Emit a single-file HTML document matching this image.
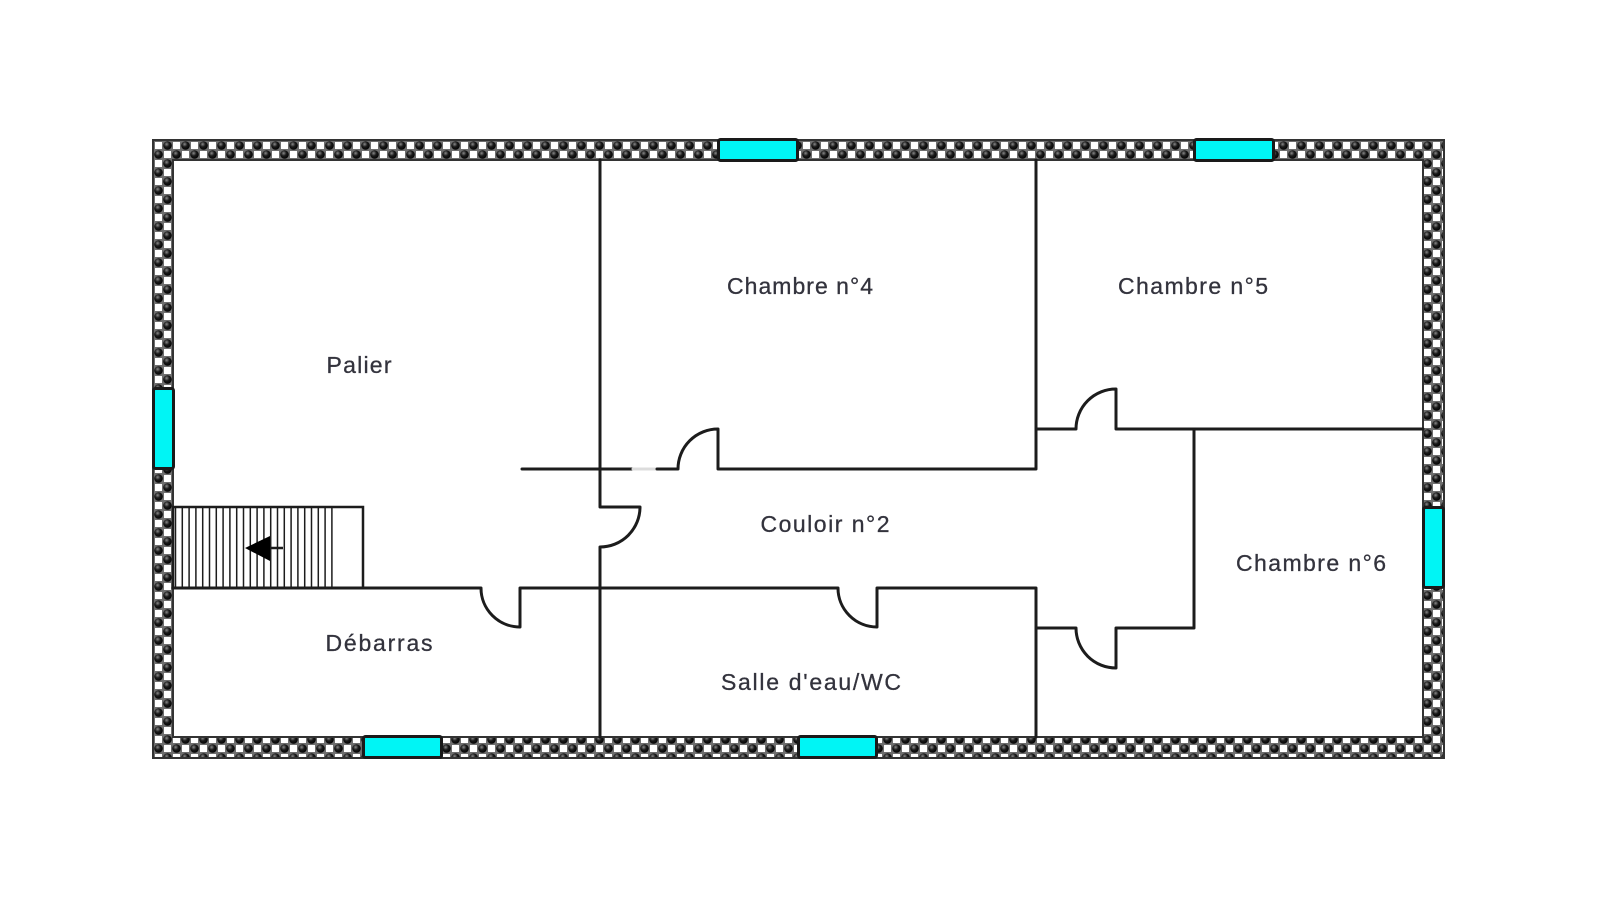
<!DOCTYPE html>
<html>
<head>
<meta charset="utf-8">
<style>
  html,body{margin:0;padding:0;background:#fff;}
  svg{display:block;}
  text{font-family:"Liberation Sans",Arial,sans-serif;font-size:23px;fill:#33333d;stroke:#33333d;stroke-width:0.3;}
</style>
</head>
<body>
<svg width="1600" height="906" viewBox="0 0 1600 906" xmlns="http://www.w3.org/2000/svg">
  <defs>
    <radialGradient id="ball" cx="0.4" cy="0.35" r="0.7">
      <stop offset="0" stop-color="#888"/>
      <stop offset="0.45" stop-color="#1a1a1a"/>
      <stop offset="1" stop-color="#000"/>
    </radialGradient>
    <pattern id="w" x="154" y="141" width="18" height="18" patternUnits="userSpaceOnUse">
      <rect width="18" height="18" fill="#6e6e6e"/>
      <rect x="1" y="1" width="7" height="7" fill="#fff"/>
      <circle cx="13.5" cy="4.5" r="4.3" fill="url(#ball)"/>
      <circle cx="4.5" cy="13.5" r="4.3" fill="url(#ball)"/>
      <rect x="10" y="10" width="7" height="7" fill="#fff"/>
    </pattern>
  </defs>

  <rect width="1600" height="906" fill="#fff"/>

  <!-- outer wall -->
  <rect x="153" y="140" width="1291" height="618" fill="url(#w)" stroke="#333" stroke-width="2"/>
  <rect x="173" y="160" width="1250" height="577" fill="#fff" stroke="#333" stroke-width="2"/>

  <!-- interior walls -->
  <g fill="none" stroke="#1c1c1c" stroke-width="3" stroke-linejoin="round" stroke-linecap="round">
    <path d="M600 160 V507 H640 A40 40 0 0 1 600 547 V737"/>
    <path d="M522 469 H633"/>
    <path d="M633 469 H657" stroke="#dcdcdc"/>
    <path d="M657 469 H678 A40 40 0 0 1 718 429 V469 H1036 V160"/>
    <path d="M1036 429 H1076 A40 40 0 0 1 1116 389 V429 H1423"/>
    <path d="M173 588 H481 A39 39 0 0 0 520 627 V588 H838 A39 39 0 0 0 877 627 V588 H1036 V737"/>
    <path d="M1036 628 H1076 A40 40 0 0 0 1116 668 V628 H1194 V429"/>
  </g>

  <!-- stairs -->
  <g stroke="#1c1c1c" fill="none">
    <rect x="173" y="507" width="190" height="81" stroke-width="2.5"/>
    <g stroke-width="1.5">
      <path d="M175.5 507V588M182.3 507V588M189.1 507V588M195.9 507V588M202.7 507V588M209.5 507V588M216.3 507V588M223.1 507V588M229.9 507V588M236.7 507V588M243.5 507V588M250.3 507V588M257.1 507V588M263.9 507V588M270.7 507V588M277.5 507V588M284.3 507V588M291.1 507V588M297.9 507V588M304.7 507V588M311.5 507V588M318.3 507V588M325.1 507V588M331.9 507V588"/>
    </g>
    <path d="M268 548 H283" stroke-width="2.5"/>
  </g>
  <polygon points="245,548 270,536 270,561" fill="#000"/>

  <!-- windows -->
  <g fill="#00f5f5" stroke="#1a1a1a" stroke-width="3">
    <rect x="718.5" y="139.5" width="79" height="21" rx="2"/>
    <rect x="1194.5" y="139.5" width="79" height="21" rx="2"/>
    <rect x="363.5" y="736.5" width="78" height="21" rx="2"/>
    <rect x="798.5" y="736.5" width="78" height="21" rx="2"/>
    <rect x="153.5" y="388.5" width="20" height="80" rx="2"/>
    <rect x="1423.5" y="507.5" width="20" height="80" rx="2"/>
  </g>

  <!-- labels -->
  <text x="359" y="373" text-anchor="middle" textLength="65" lengthAdjust="spacing">Palier</text>
  <text x="800" y="294" text-anchor="middle" textLength="146" lengthAdjust="spacing">Chambre n°4</text>
  <text x="1193" y="294" text-anchor="middle" textLength="150" lengthAdjust="spacing">Chambre n°5</text>
  <text x="825" y="532" text-anchor="middle" textLength="129" lengthAdjust="spacing">Couloir n°2</text>
  <text x="1311" y="571" text-anchor="middle" textLength="150" lengthAdjust="spacing">Chambre n°6</text>
  <text x="379" y="651" text-anchor="middle" textLength="107" lengthAdjust="spacing">Débarras</text>
  <text x="811" y="690" text-anchor="middle" textLength="180" lengthAdjust="spacing">Salle d'eau/WC</text>
</svg>
</body>
</html>
